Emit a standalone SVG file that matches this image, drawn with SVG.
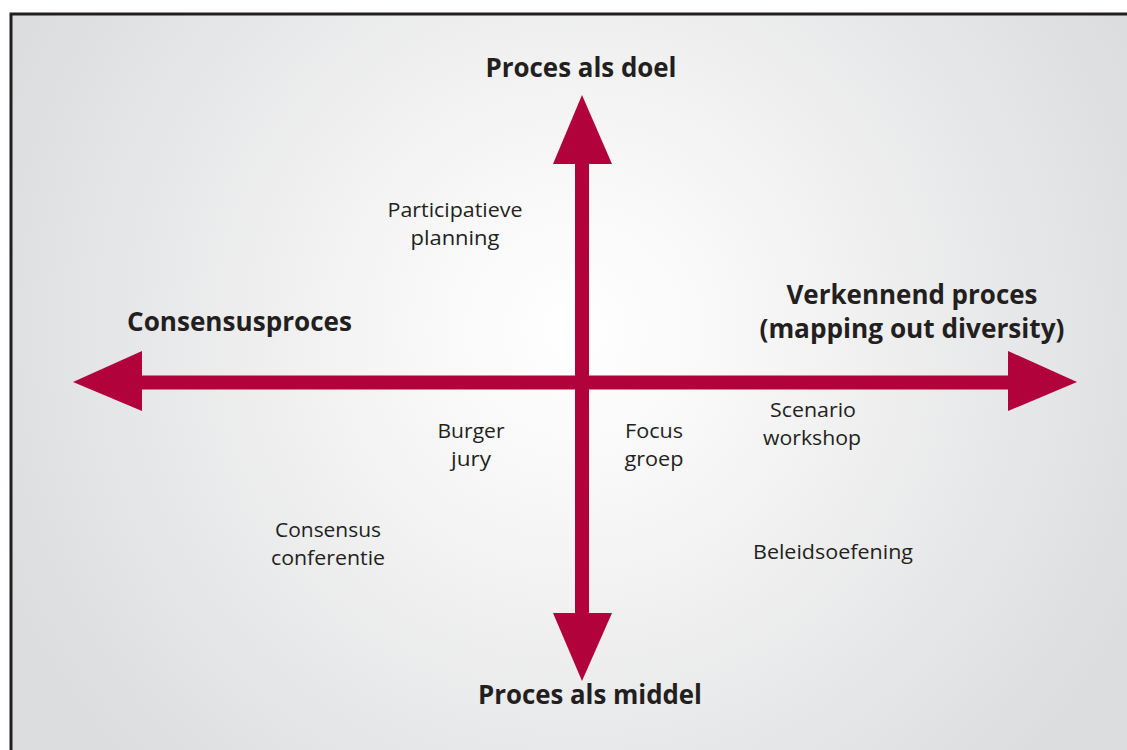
<svg xmlns="http://www.w3.org/2000/svg" width="1127" height="750" viewBox="0 0 1127 750">
<defs>
<radialGradient id="bg" gradientUnits="userSpaceOnUse" cx="575" cy="330" r="620">
<stop offset="0" stop-color="#ffffff"/>
<stop offset="0.25" stop-color="#f8f8f8"/>
<stop offset="1" stop-color="#dcdddf"/>
</radialGradient>
<style>
.ax{fill:#b1023b;}
.h{font-family:"Open Sans","Liberation Sans",sans-serif;font-weight:bold;font-size:26px;fill:#231f20;text-anchor:middle;}
.t{font-family:"Open Sans","Liberation Sans",sans-serif;font-size:20px;fill:#231f20;text-anchor:middle;}
</style>
</defs>
<rect x="0" y="0" width="1127" height="750" fill="#ffffff"/>
<rect x="11" y="14" width="1130" height="750" fill="url(#bg)" stroke="#231f20" stroke-width="3"/>
<g id="connectors">
<rect class="ax" x="141" y="375.5" width="868" height="14"/>
<rect class="ax" x="575" y="163" width="14" height="451"/>
<polygon class="ax" points="582,95 612,164 553,164"/>
<polygon class="ax" points="582,681 553,613 612,613"/>
<polygon class="ax" points="73,382 142,351 142,411"/>
<polygon class="ax" points="1077,382 1008,351 1008,411"/>
</g>
<g id="top"><text class="h" x="581" y="77" textLength="191" lengthAdjust="spacingAndGlyphs">Proces als doel</text></g>
<g id="bottom"><text class="h" x="590" y="704" textLength="224" lengthAdjust="spacingAndGlyphs">Proces als middel</text></g>
<g id="left"><text class="h" x="239.5" y="331" textLength="225" lengthAdjust="spacingAndGlyphs">Consensusproces</text></g>
<g id="right">
<text class="h" x="912" y="304" textLength="251" lengthAdjust="spacingAndGlyphs">Verkennend proces</text>
<text class="h" x="912" y="338" textLength="305" lengthAdjust="spacingAndGlyphs">(mapping out diversity)</text>
</g>
<g id="participatieve">
<text class="t" x="455" y="217" textLength="135" lengthAdjust="spacingAndGlyphs">Participatieve</text>
<text class="t" x="455" y="245" textLength="89" lengthAdjust="spacingAndGlyphs">planning</text>
</g>
<g id="burger">
<text class="t" x="471" y="438" textLength="67" lengthAdjust="spacingAndGlyphs">Burger</text>
<text class="t" x="471" y="466" textLength="40" lengthAdjust="spacingAndGlyphs">jury</text>
</g>
<g id="focus">
<text class="t" x="654" y="438" textLength="58" lengthAdjust="spacingAndGlyphs">Focus</text>
<text class="t" x="654" y="466" textLength="59" lengthAdjust="spacingAndGlyphs">groep</text>
</g>
<g id="scenario">
<text class="t" x="813" y="417" textLength="86" lengthAdjust="spacingAndGlyphs">Scenario</text>
<text class="t" x="812" y="445" textLength="98" lengthAdjust="spacingAndGlyphs">workshop</text>
</g>
<g id="consensus">
<text class="t" x="328" y="537" textLength="106" lengthAdjust="spacingAndGlyphs">Consensus</text>
<text class="t" x="328" y="565" textLength="114" lengthAdjust="spacingAndGlyphs">conferentie</text>
</g>
<g id="beleid">
<text class="t" x="833" y="559" textLength="160" lengthAdjust="spacingAndGlyphs">Beleidsoefening</text>
</g>
</svg>
